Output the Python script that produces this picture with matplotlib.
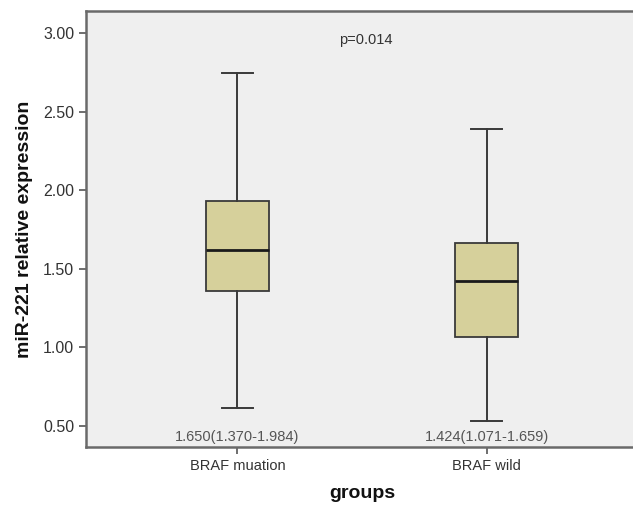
import matplotlib
matplotlib.use("Agg")
import matplotlib.pyplot as plt

groups = ["BRAF muation", "BRAF wild"]
whislo = [0.616, 0.532]
q1 = [1.361, 1.068]
med = [1.620, 1.424]
q3 = [1.929, 1.662]
whishi = [2.747, 2.387]
annotations = ["1.650(1.370-1.984)", "1.424(1.071-1.659)"]
p_text = "p=0.014"
yticks = [0.5, 1.0, 1.5, 2.0, 2.5, 3.0]

plt.rcParams['font.family'] = ['Liberation Sans', 'DejaVu Sans']

fig = plt.figure(figsize=(6.33, 5.05), dpi=100)
ax = fig.add_axes([86/633, 58/505, 552/633, 436/505])
ax.set_facecolor('#efefef')

stats = []
for i in range(len(groups)):
    stats.append(dict(whislo=whislo[i], q1=q1[i], med=med[i], q3=q3[i],
                      whishi=whishi[i], fliers=[], label=groups[i]))

ax.bxp(stats, positions=range(len(groups)), widths=0.253, patch_artist=True,
       showfliers=False,
       boxprops=dict(facecolor='#d6d09b', edgecolor='#3a3a3a', linewidth=1.3),
       medianprops=dict(color='#1a1a1a', linewidth=2.0),
       whiskerprops=dict(color='#3a3a3a', linewidth=1.4),
       capprops=dict(color='#3a3a3a', linewidth=1.4),
       capwidths=0.124)

ax.set_xlim(-0.608, 1.608)
ax.set_ylim(0.366, 3.14)
ax.set_yticks(yticks)
ax.set_yticklabels([f"{v:.2f}" for v in yticks])
ax.set_xticks(range(len(groups)))
ax.set_xticklabels(groups)

for i, a in enumerate(annotations):
    ax.text(i, 0.43, a, ha='center', va='center', fontsize=10.5, color='#555555')
ax.text(0.516, 2.955, p_text, ha='center', va='center', fontsize=10.5, color='#333333')

for s in ['top', 'left', 'bottom']:
    ax.spines[s].set_color('#6a6a6a')
    ax.spines[s].set_linewidth(1.8)
ax.spines['right'].set_visible(False)

ax.tick_params(axis='both', colors='#555555', labelcolor='#333333',
               length=5, width=1.2)
ax.tick_params(axis='y', labelsize=11.5)
ax.tick_params(axis='x', labelsize=10.5)
ax.set_ylabel("miR-221 relative expression", fontsize=14, fontweight='bold',
              color='#111111', labelpad=7)
ax.set_xlabel("groups", fontsize=14, fontweight='bold', color='#111111', labelpad=9)

fig.savefig("out.png", dpi=100)
